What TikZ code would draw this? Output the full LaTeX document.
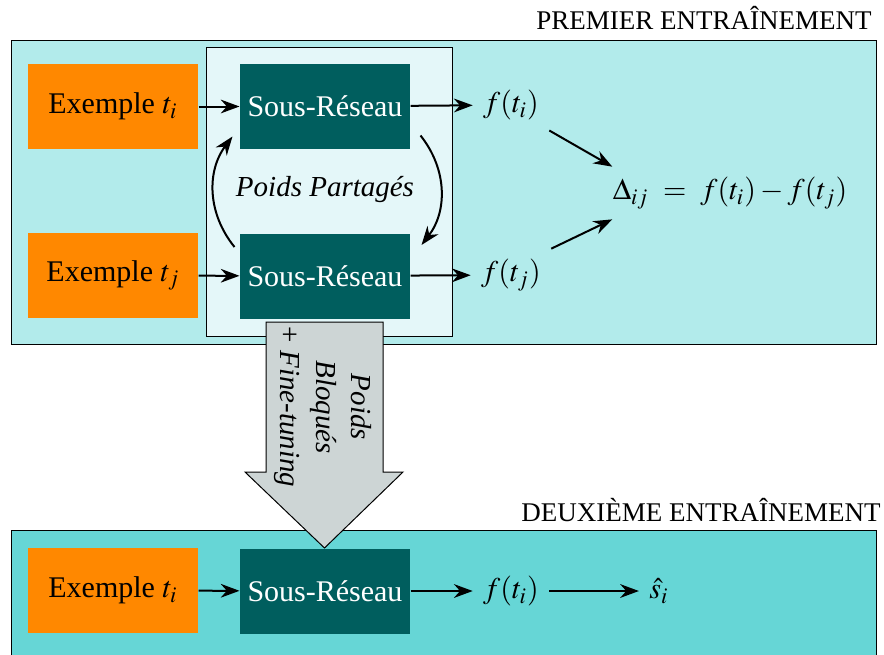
\documentclass[tikz,border=0pt,12pt]{standalone}
\usepackage{mathptmx}
\usepackage{fontspec}
\setmainfont{Liberation Serif}
\usetikzlibrary{arrows.meta}
\definecolor{topbg}{RGB}{178,235,235}
\definecolor{botbg}{RGB}{102,214,214}
\definecolor{innerbg}{RGB}{228,247,249}
\definecolor{orangebox}{RGB}{255,136,0}
\definecolor{tealbox}{RGB}{0,94,94}
\definecolor{arrowgray}{RGB}{205,213,213}
\begin{document}
\begin{tikzpicture}[x=0.4pt,y=-0.4pt,
  panel/.style={draw=black, line width=0.4pt, inner sep=0pt, anchor=north west},
  exbox/.style={fill=orangebox, minimum width=68pt, minimum height=34pt, inner sep=0pt},
  netbox/.style={fill=tealbox, text=white, minimum width=68pt, minimum height=34pt, inner sep=0pt},
  arr/.style={-{Stealth[length=7.5pt,width=5.5pt]}, line width=0.8pt},
  title/.style={font=\fontsize{10.8}{13}\selectfont, anchor=east, inner sep=0pt}]
\useasboundingbox (0,0) rectangle (884,654);
\fill[white] (0,0) rectangle (884,654);
% panels
\node[panel, fill=topbg, minimum width=346pt, minimum height=121.6pt] (top) at (11,40) {};
\node[panel, fill=botbg, minimum width=346pt, minimum height=60pt] (bot) at (11,530) {};
\node[panel, fill=innerbg, minimum width=98.4pt, minimum height=115.6pt] (inner) at (206,47) {};
\node[title] (t1) at (872,18) {PREMIER ENTRAÎNEMENT};
\node[title] (t2) at (881,510) {DEUXIÈME ENTRAÎNEMENT};
% first training
\node[exbox] (ex1) at (113,106.5) {Exemple $t_i$};
\node[exbox] (ex2) at (113,275.5) {Exemple $t_j$};
\node[netbox] (sr1) at (325,106.5) {Sous-Réseau};
\node[netbox] (sr2) at (325,276) {Sous-Réseau};
\node (fti) at (511,105) {$f(t_i)$};
\node (ftj) at (511,275) {$f(t_j)$};
\node (delta) at (730,193) {$\Delta_{ij}\ =\ f(t_i)-f(t_j)$};
\node[font=\fontsize{11.6}{14}\selectfont\itshape] (pp) at (325,190) {Poids Partagés};
\draw[arr] (ex1) -- (sr1);
\draw[arr] (ex2) -- (sr2);
\draw[arr] (sr1) -- (fti);
\draw[arr] (sr2) -- (ftj);
\draw[arr] (fti.south east) -- ([xshift=4pt]delta.north west);
\draw[arr] (ftj.north east) -- ([xshift=4pt]delta.south west);
\draw[arr] ([shift={(-5,14)}]sr2.north west) to[bend left=38] ([shift={(-7,-13)}]sr1.south west);
\draw[arr] ([shift={(10,-14)}]sr1.south east) to[bend left=38] ([shift={(11,12)}]sr2.north east);
% second training
\node[exbox] (ex3) at (113,590.5) {Exemple $t_i$};
\node[netbox] (sr3) at (325,591) {Sous-Réseau};
\node (ft3) at (511,591) {$f(t_i)$};
\node (shat) at (659,591) {$\hat{s}_i$};
\draw[arr] (ex3) -- (sr3);
\draw[arr] (sr3) -- (ft3);
\draw[arr] (ft3) -- (shat);
% big transfer arrow
\filldraw[fill=arrowgray, draw=black, line width=0.4pt] (266,322) -- (383,322) -- (383,472) -- (403,472) -- (324.5,548) -- (245,472) -- (266,472) -- cycle;
\node[rotate=-90, align=center, font=\fontsize{11.6}{14.2}\selectfont\itshape] (lbl) at (323,407) {Poids\\Bloqués\\{\upshape +} Fine-tuning};
\end{tikzpicture}
\end{document}
